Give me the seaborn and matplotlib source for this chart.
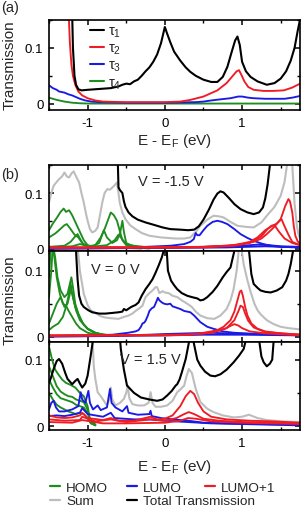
import matplotlib
matplotlib.use("Agg")
import matplotlib.pyplot as plt
from matplotlib.ticker import MultipleLocator, FuncFormatter
from matplotlib.lines import Line2D
import seaborn as sns

# ---------------- data: panel (a) ----------------
A_TAU1_E = [-1.5, -1.22, -1.2, -1.19, -1.17, -1.15, -1.12, -1.08, -1.0, -0.9, -0.8, -0.7, -0.6, -0.55, -0.5, -0.45, -0.4, -0.35, -0.3, -0.25, -0.2, -0.15, -0.1, -0.05, 0.0, 0.03, 0.07, 0.12, 0.2, 0.27, 0.33, 0.4, 0.5, 0.6, 0.68, 0.75, 0.81, 0.86, 0.91, 0.94, 0.97, 1.0, 1.05, 1.11, 1.2, 1.32, 1.42, 1.5, 1.57, 1.63, 1.68, 1.72, 1.75]
A_TAU1_T = [0.5, 0.3, 0.16, 0.1, 0.05, 0.034, 0.026, 0.024, 0.025, 0.026, 0.027, 0.028, 0.031, 0.034, 0.036, 0.035, 0.04, 0.043, 0.05, 0.058, 0.065, 0.075, 0.088, 0.108, 0.137, 0.125, 0.11, 0.093, 0.077, 0.065, 0.057, 0.05, 0.043, 0.039, 0.039, 0.048, 0.066, 0.09, 0.113, 0.12, 0.105, 0.075, 0.058, 0.048, 0.04, 0.034, 0.037, 0.045, 0.058, 0.077, 0.1, 0.13, 0.15]
A_TAU2_E = [-1.5, -1.27, -1.245, -1.23, -1.21, -1.19, -1.16, -1.12, -1.07, -1.0, -0.9, -0.8, -0.5, 0.0, 0.2, 0.33, 0.5, 0.68, 0.8, 0.88, 0.93, 0.96, 0.99, 1.03, 1.08, 1.15, 1.28, 1.4, 1.54, 1.65, 1.75]
A_TAU2_T = [0.5, 0.3, 0.16, 0.11, 0.07, 0.05, 0.034, 0.022, 0.015, 0.01, 0.006, 0.004, 0.003, 0.003, 0.004, 0.007, 0.013, 0.024, 0.037, 0.05, 0.058, 0.06, 0.052, 0.04, 0.03, 0.025, 0.023, 0.023, 0.024, 0.029, 0.036]
A_TAU3_E = [-1.5, -1.45, -1.4, -1.37, -1.3, -1.25, -1.2, -1.15, -1.1, -1.03, -0.95, -0.85, -0.5, 0.0, 0.4, 0.5, 0.6, 0.72, 0.85, 0.95, 1.0, 1.08, 1.15, 1.3, 1.45, 1.55, 1.65, 1.75]
A_TAU3_T = [0.033, 0.028, 0.025, 0.022, 0.02, 0.017, 0.015, 0.012, 0.009, 0.006, 0.004, 0.003, 0.002, 0.002, 0.003, 0.004, 0.006, 0.008, 0.01, 0.013, 0.013, 0.011, 0.01, 0.009, 0.009, 0.009, 0.011, 0.014]
A_TAU4_E = [-1.5, -1.45, -1.4, -1.3, -1.2, -1.1, -1.0, 0.0, 1.0, 1.75]
A_TAU4_T = [0.011, 0.009, 0.007, 0.004, 0.002, 0.001, 0.0005, 0.0005, 0.0005, 0.0005]
A_LABELS = ["τ$_1$", "τ$_2$", "τ$_3$", "τ$_4$"]

# ---------------- data: panel (b), V = -1.5 V ----------------
B1_TOT_E = [-1.5, -0.63, -0.61, -0.6, -0.58, -0.55, -0.53, -0.51, -0.47, -0.42, -0.35, -0.25, -0.15, -0.03, 0.07, 0.2, 0.3, 0.38, 0.44, 0.5, 0.57, 0.63, 0.68, 0.72, 0.76, 0.83, 0.9, 0.98, 1.07, 1.15, 1.22, 1.27, 1.3, 1.33, 1.36, 1.38, 1.75]
B1_TOT_T = [0.3, 0.3, 0.16, 0.11, 0.105, 0.1, 0.085, 0.075, 0.065, 0.058, 0.052, 0.047, 0.043, 0.038, 0.035, 0.034, 0.033, 0.034, 0.04, 0.052, 0.07, 0.088, 0.099, 0.103, 0.101, 0.091, 0.08, 0.071, 0.065, 0.062, 0.065, 0.074, 0.09, 0.115, 0.15, 0.3, 0.3]
B1_SUM_E = [-1.5, -1.47, -1.44, -1.4, -1.37, -1.33, -1.3, -1.27, -1.24, -1.21, -1.18, -1.15, -1.11, -1.08, -1.05, -1.02, -1.0, -0.97, -0.94, -0.9, -0.87, -0.84, -0.81, -0.78, -0.745, -0.71, -0.68, -0.65, -0.62, -0.6, -0.585, -0.55, -0.51, -0.45, -0.38, -0.3, -0.2, -0.05, 0.14, 0.25, 0.33, 0.4, 0.46, 0.55, 0.63, 0.7, 0.76, 0.85, 0.94, 1.05, 1.15, 1.25, 1.32, 1.42, 1.5, 1.55, 1.58, 1.6, 1.63, 1.65, 1.68, 1.71, 1.73, 1.75]
B1_SUM_T = [0.083, 0.1, 0.113, 0.12, 0.125, 0.13, 0.137, 0.13, 0.128, 0.135, 0.139, 0.13, 0.119, 0.1, 0.083, 0.062, 0.05, 0.035, 0.029, 0.032, 0.038, 0.06, 0.083, 0.1, 0.107, 0.106, 0.11, 0.114, 0.119, 0.1, 0.083, 0.065, 0.053, 0.042, 0.035, 0.028, 0.023, 0.02, 0.018, 0.018, 0.02, 0.03, 0.041, 0.052, 0.059, 0.058, 0.056, 0.048, 0.041, 0.039, 0.038, 0.047, 0.059, 0.075, 0.095, 0.12, 0.149, 0.3, 0.3, 0.15, 0.08, 0.04, 0.026, 0.018]
B1_H1_E = [-1.5, -1.45, -1.4, -1.35, -1.31, -1.28, -1.24, -1.2, -1.15, -1.1, -1.05, -1.0, -0.9, -0.5, -0.3]
B1_H1_T = [0.033, 0.045, 0.055, 0.066, 0.072, 0.066, 0.069, 0.06, 0.045, 0.03, 0.015, 0.006, 0.002, 0.001, 0.0]
B1_H2_E = [-1.5, -1.42, -1.37, -1.3, -1.27, -1.22, -1.17, -1.12, -1.07, -1.0, -0.9, -0.83, -0.78, -0.74, -0.7, -0.66, -0.62, -0.58, -0.55, -0.5, -0.4, -0.2]
B1_H2_T = [0.02, 0.027, 0.033, 0.042, 0.044, 0.035, 0.025, 0.02, 0.01, 0.004, 0.006, 0.02, 0.035, 0.05, 0.065, 0.06, 0.05, 0.03, 0.015, 0.006, 0.002, 0.0]
B1_H3_E = [-1.5, -1.3, -1.22, -1.16, -1.13, -1.1, -1.05, -0.95, -0.85, -0.79, -0.75, -0.68, -0.62, -0.58, -0.55, -0.53, -0.5, -0.4, -0.2]
B1_H3_T = [0.003, 0.005, 0.012, 0.022, 0.026, 0.018, 0.006, 0.003, 0.01, 0.033, 0.02, 0.01, 0.015, 0.027, 0.05, 0.03, 0.01, 0.003, 0.001]
B1_H4_E = [-1.5, -1.2, -1.1, -1.0, -0.9, -0.75, -0.65, -0.6, -0.57, -0.5, -0.4, -0.2, 0.0]
B1_H4_T = [0.002, 0.004, 0.008, 0.005, 0.004, 0.006, 0.015, 0.025, 0.02, 0.008, 0.005, 0.002, 0.001]
B1_L1_E = [-1.5, -0.5, -0.25, 0.075, 0.25, 0.33, 0.375, 0.4, 0.42, 0.45, 0.5, 0.55, 0.62, 0.68, 0.74, 0.81, 0.9, 0.98, 1.07, 1.15, 1.25, 1.37, 1.5, 1.75]
B1_L1_T = [0.0, 0.001, 0.003, 0.005, 0.008, 0.012, 0.017, 0.028, 0.024, 0.024, 0.033, 0.041, 0.048, 0.05, 0.048, 0.044, 0.035, 0.026, 0.019, 0.014, 0.009, 0.005, 0.003, 0.002]
B1_L2_E = [-1.5, -0.5, 0.0, 0.5, 1.0, 1.2, 1.35, 1.5, 1.75]
B1_L2_T = [0.0, 0.001, 0.002, 0.003, 0.005, 0.007, 0.006, 0.004, 0.003]
B1_L3_E = [-1.5, 0.0, 0.8, 1.3, 1.75]
B1_L3_T = [0.0, 0.001, 0.002, 0.004, 0.002]
B1_P1_E = [-1.5, 0.0, 0.5, 0.8, 1.0, 1.15, 1.25, 1.32, 1.41, 1.47, 1.5, 1.53, 1.56, 1.6, 1.62, 1.65, 1.67, 1.69, 1.72, 1.75]
B1_P1_T = [0.002, 0.002, 0.003, 0.005, 0.008, 0.012, 0.018, 0.026, 0.038, 0.048, 0.053, 0.065, 0.077, 0.089, 0.085, 0.065, 0.04, 0.023, 0.013, 0.008]
B1_P2_E = [-1.5, 0.5, 0.9, 1.1, 1.2, 1.3, 1.38, 1.45, 1.51, 1.55, 1.6, 1.65, 1.75]
B1_P2_T = [0.002, 0.003, 0.006, 0.012, 0.02, 0.033, 0.04, 0.045, 0.053, 0.04, 0.025, 0.012, 0.006]
B1_P3_E = [-1.5, 0.5, 0.9, 1.1, 1.25, 1.33, 1.38, 1.42, 1.48, 1.55, 1.65, 1.75]
B1_P3_T = [0.001, 0.002, 0.005, 0.01, 0.022, 0.035, 0.041, 0.042, 0.03, 0.018, 0.01, 0.006]

# ---------------- data: panel (b), V = 0 V ----------------
B2_TOT_E = [-1.5, -1.16, -1.15, -1.13, -1.11, -1.08, -1.05, -0.99, -0.94, -0.85, -0.77, -0.68, -0.6, -0.55, -0.53, -0.5, -0.45, -0.42, -0.38, -0.34, -0.3, -0.25, -0.2, -0.16, -0.12, -0.08, -0.04, -0.02, 0.0, 0.02, 0.04, 0.08, 0.12, 0.16, 0.22, 0.29, 0.35, 0.42, 0.46, 0.5, 0.55, 0.62, 0.68, 0.75, 0.8, 0.85, 0.9, 0.93, 1.06, 1.09, 1.12, 1.15, 1.2, 1.24, 1.3, 1.37, 1.45, 1.52, 1.57, 1.6, 1.63, 1.66, 1.68, 1.75]
B2_TOT_T = [0.3, 0.3, 0.13, 0.087, 0.062, 0.05, 0.045, 0.04, 0.037, 0.035, 0.035, 0.036, 0.037, 0.038, 0.042, 0.04, 0.044, 0.046, 0.048, 0.052, 0.062, 0.072, 0.08, 0.087, 0.097, 0.108, 0.12, 0.128, 0.14, 0.14, 0.1, 0.085, 0.078, 0.072, 0.066, 0.062, 0.06, 0.058, 0.055, 0.056, 0.06, 0.068, 0.077, 0.09, 0.098, 0.105, 0.13, 0.3, 0.3, 0.13, 0.095, 0.08, 0.074, 0.07, 0.068, 0.067, 0.07, 0.075, 0.085, 0.095, 0.11, 0.13, 0.3, 0.3]
B2_SUM_E = [-1.5, -1.2, -1.15, -1.1, -1.05, -1.0, -0.96, -0.9, -0.83, -0.77, -0.7, -0.6, -0.53, -0.47, -0.42, -0.38, -0.33, -0.29, -0.25, -0.2, -0.16, -0.12, -0.1, -0.07, -0.03, 0.0, 0.05, 0.1, 0.16, 0.22, 0.29, 0.35, 0.4, 0.46, 0.55, 0.64, 0.72, 0.8, 0.85, 0.89, 0.93, 0.96, 0.99, 1.02, 1.07, 1.11, 1.16, 1.2, 1.24, 1.32, 1.41, 1.5, 1.6, 1.75]
B2_SUM_T = [0.3, 0.3, 0.16, 0.1, 0.065, 0.048, 0.04, 0.036, 0.031, 0.029, 0.028, 0.027, 0.03, 0.032, 0.035, 0.039, 0.043, 0.047, 0.06, 0.066, 0.07, 0.075, 0.075, 0.066, 0.069, 0.067, 0.066, 0.062, 0.06, 0.055, 0.05, 0.045, 0.038, 0.032, 0.028, 0.027, 0.032, 0.042, 0.055, 0.072, 0.1, 0.135, 0.135, 0.11, 0.085, 0.068, 0.05, 0.04, 0.034, 0.025, 0.019, 0.015, 0.013, 0.011]
B2_H1_E = [-1.5, -1.48, -1.46, -1.43, -1.4, -1.36, -1.32, -1.28, -1.25, -1.2, -1.15, -1.1, -1.0, -0.85, -0.6]
B2_H1_T = [0.09, 0.13, 0.14, 0.12, 0.09, 0.065, 0.05, 0.047, 0.04, 0.03, 0.02, 0.013, 0.006, 0.002, 0.001]
B2_H2_E = [-1.5, -1.47, -1.45, -1.42, -1.39, -1.35, -1.3, -1.26, -1.23, -1.21, -1.19, -1.16, -1.12, -1.06, -1.0, -0.9, -0.7]
B2_H2_T = [0.06, 0.1, 0.14, 0.12, 0.09, 0.07, 0.06, 0.065, 0.08, 0.09, 0.075, 0.05, 0.035, 0.02, 0.012, 0.005, 0.002]
B2_H3_E = [-1.5, -1.45, -1.4, -1.35, -1.3, -1.26, -1.22, -1.2, -1.16, -1.1, -1.05, -1.0, -0.9, -0.8, -0.6]
B2_H3_T = [0.02, 0.035, 0.05, 0.06, 0.045, 0.05, 0.07, 0.065, 0.045, 0.028, 0.018, 0.012, 0.006, 0.003, 0.001]
B2_H4_E = [-1.5, -1.45, -1.38, -1.32, -1.28, -1.25, -1.22, -1.19, -1.15, -1.1, -1.0, -0.9, -0.8, -0.6]
B2_H4_T = [0.01, 0.015, 0.02, 0.03, 0.045, 0.06, 0.08, 0.06, 0.04, 0.025, 0.012, 0.006, 0.003, 0.001]
B2_L1_E = [-1.5, -1.0, -0.68, -0.47, -0.38, -0.34, -0.31, -0.29, -0.27, -0.25, -0.22, -0.2, -0.17, -0.14, -0.11, -0.09, -0.07, -0.04, -0.01, 0.03, 0.07, 0.1, 0.15, 0.2, 0.25, 0.33, 0.38, 0.42, 0.46, 0.55, 0.63, 0.75, 0.89, 1.2, 1.5, 1.75]
B2_L1_T = [0.001, 0.002, 0.003, 0.006, 0.008, 0.01, 0.015, 0.02, 0.021, 0.024, 0.032, 0.039, 0.043, 0.045, 0.053, 0.059, 0.055, 0.052, 0.05, 0.049, 0.05, 0.046, 0.044, 0.042, 0.039, 0.037, 0.032, 0.027, 0.022, 0.015, 0.012, 0.008, 0.006, 0.004, 0.003, 0.002]
B2_L2_E = [-1.5, -0.5, -0.2, 0.0, 0.3, 0.6, 0.8, 1.2, 1.75]
B2_L2_T = [0.001, 0.002, 0.003, 0.004, 0.005, 0.006, 0.005, 0.004, 0.003]
B2_L3_E = [-1.5, 0.0, 0.5, 1.0, 1.75]
B2_L3_T = [0.0, 0.002, 0.003, 0.003, 0.002]
B2_P1_E = [-1.5, 0.0, 0.3, 0.46, 0.6, 0.68, 0.76, 0.85, 0.9, 0.94, 0.97, 0.99, 1.01, 1.04, 1.07, 1.12, 1.2, 1.3, 1.5, 1.75]
B2_P1_T = [0.002, 0.002, 0.003, 0.005, 0.008, 0.01, 0.015, 0.025, 0.038, 0.055, 0.068, 0.07, 0.062, 0.045, 0.032, 0.02, 0.012, 0.008, 0.005, 0.003]
B2_P2_E = [-1.5, 0.3, 0.6, 0.8, 0.9, 0.95, 0.98, 1.01, 1.04, 1.08, 1.15, 1.3, 1.75]
B2_P2_T = [0.002, 0.003, 0.006, 0.013, 0.025, 0.038, 0.047, 0.045, 0.035, 0.024, 0.014, 0.007, 0.003]
B2_P3_E = [-1.5, 0.3, 0.6, 0.78, 0.86, 0.9, 0.95, 1.0, 1.1, 1.3, 1.75]
B2_P3_T = [0.001, 0.003, 0.006, 0.012, 0.017, 0.019, 0.017, 0.013, 0.008, 0.005, 0.002]

# ---------------- data: panel (b), V = 1.5 V ----------------
B3_TOT_E = [-1.5, -1.48, -1.44, -1.4, -1.37, -1.33, -1.29, -1.26, -1.2, -1.16, -1.13, -1.1, -1.07, -1.03, -1.0, -0.96, -0.93, -0.91, -0.6, -0.58, -0.57, -0.53, -0.49, -0.4, -0.31, -0.2, -0.1, -0.03, 0.03, 0.09, 0.14, 0.16, 0.19, 0.22, 0.27, 0.31, 0.33, 0.36, 0.375, 0.42, 0.46, 0.52, 0.59, 0.65, 0.72, 0.8, 0.89, 0.96, 1.02, 1.05, 1.07, 1.2, 1.22, 1.25, 1.28, 1.32, 1.36, 1.39, 1.41, 1.43, 1.75]
B3_TOT_T = [0.065, 0.071, 0.086, 0.098, 0.101, 0.094, 0.08, 0.071, 0.063, 0.068, 0.071, 0.064, 0.058, 0.064, 0.076, 0.106, 0.13, 0.3, 0.3, 0.13, 0.116, 0.085, 0.061, 0.05, 0.043, 0.04, 0.038, 0.04, 0.046, 0.053, 0.061, 0.063, 0.07, 0.081, 0.101, 0.125, 0.3, 0.3, 0.125, 0.1, 0.091, 0.082, 0.076, 0.075, 0.078, 0.085, 0.096, 0.106, 0.116, 0.13, 0.3, 0.3, 0.13, 0.105, 0.096, 0.09, 0.094, 0.1, 0.13, 0.3, 0.3]
B3_SUM_E = [-1.5, -0.97, -0.94, -0.92, -0.9, -0.87, -0.83, -0.79, -0.75, -0.72, -0.7, -0.68, -0.64, -0.58, -0.53, -0.5, -0.48, -0.46, -0.42, -0.35, -0.27, -0.21, -0.185, -0.16, -0.12, -0.05, 0.03, 0.1, 0.16, 0.2, 0.25, 0.28, 0.31, 0.35, 0.4, 0.46, 0.55, 0.63, 0.75, 0.89, 1.0, 1.09, 1.2, 1.32, 1.5, 1.75]
B3_SUM_T = [0.3, 0.3, 0.14, 0.09, 0.071, 0.051, 0.045, 0.038, 0.031, 0.04, 0.058, 0.04, 0.031, 0.035, 0.041, 0.05, 0.061, 0.042, 0.033, 0.031, 0.031, 0.035, 0.051, 0.035, 0.029, 0.029, 0.031, 0.038, 0.051, 0.055, 0.061, 0.075, 0.086, 0.08, 0.056, 0.036, 0.026, 0.021, 0.016, 0.013, 0.014, 0.017, 0.012, 0.009, 0.007, 0.006]
B3_H1_E = [-1.5, -1.46, -1.42, -1.38, -1.33, -1.28, -1.22, -1.16, -1.1, -1.05, -1.0, -0.97, -0.9]
B3_H1_T = [0.12, 0.1, 0.085, 0.078, 0.07, 0.065, 0.062, 0.058, 0.05, 0.045, 0.03, 0.01, 0.002]
B3_H2_E = [-1.5, -1.45, -1.4, -1.35, -1.3, -1.25, -1.2, -1.15, -1.1, -1.05, -1.0, -0.97, -0.9]
B3_H2_T = [0.09, 0.075, 0.06, 0.052, 0.048, 0.045, 0.044, 0.04, 0.038, 0.036, 0.025, 0.008, 0.002]
B3_H3_E = [-1.5, -1.45, -1.4, -1.35, -1.3, -1.25, -1.2, -1.15, -1.1, -1.05, -1.0, -0.96, -0.9]
B3_H3_T = [0.07, 0.058, 0.048, 0.042, 0.04, 0.038, 0.036, 0.032, 0.03, 0.028, 0.02, 0.005, 0.001]
B3_H4_E = [-1.5, -1.45, -1.4, -1.35, -1.3, -1.25, -1.2, -1.15, -1.1, -1.05, -1.0, -0.96, -0.9]
B3_H4_T = [0.05, 0.04, 0.032, 0.028, 0.025, 0.022, 0.02, 0.018, 0.02, 0.018, 0.012, 0.004, 0.001]
B3_L1_E = [-1.5, -1.47, -1.44, -1.41, -1.37, -1.3, -1.2, -1.12, -1.09, -1.07, -1.03, -0.99, -0.97, -0.93, -0.87, -0.83, -0.75, -0.71, -0.69, -0.64, -0.55, -0.49, -0.47, -0.35, -0.2, -0.185, -0.17, -0.05, 0.1, 0.3, 0.5, 0.8, 1.2, 1.75]
B3_L1_T = [0.025, 0.035, 0.038, 0.028, 0.022, 0.022, 0.025, 0.03, 0.051, 0.04, 0.035, 0.053, 0.035, 0.025, 0.031, 0.024, 0.028, 0.056, 0.035, 0.028, 0.022, 0.03, 0.02, 0.017, 0.018, 0.023, 0.015, 0.012, 0.01, 0.008, 0.005, 0.004, 0.003, 0.002]
B3_L2_E = [-1.5, -1.4, -1.3, -1.2, -1.1, -1.07, -1.0, -0.8, -0.7, -0.65, -0.4, -0.2, 0.0, 0.3, 0.6, 1.0, 1.75]
B3_L2_T = [0.015, 0.016, 0.015, 0.017, 0.02, 0.027, 0.018, 0.014, 0.02, 0.012, 0.01, 0.01, 0.008, 0.006, 0.004, 0.003, 0.001]
B3_P1_E = [-1.5, -1.4, -1.3, -1.2, -1.1, -1.07, -1.0, -0.8, -0.7, -0.6, -0.4, -0.185, -0.1, 0.0, 0.1, 0.2, 0.27, 0.33, 0.38, 0.43, 0.5, 0.6, 0.8, 1.1, 1.4, 1.75]
B3_P1_T = [0.016, 0.013, 0.012, 0.013, 0.016, 0.02, 0.012, 0.009, 0.012, 0.008, 0.008, 0.014, 0.01, 0.011, 0.016, 0.03, 0.045, 0.053, 0.048, 0.035, 0.022, 0.014, 0.01, 0.008, 0.007, 0.005]
B3_P2_E = [-1.5, -1.3, -1.1, -1.07, -0.9, -0.7, -0.5, -0.185, 0.0, 0.15, 0.25, 0.31, 0.38, 0.5, 0.7, 1.0, 1.75]
B3_P2_T = [0.01, 0.008, 0.009, 0.014, 0.007, 0.01, 0.006, 0.01, 0.008, 0.012, 0.018, 0.021, 0.018, 0.011, 0.008, 0.006, 0.004]
B3_P3_E = [-1.5, -1.2, -1.07, -0.8, -0.5, 0.0, 0.2, 0.3, 0.4, 0.6, 1.0, 1.75]
B3_P3_T = [0.006, 0.005, 0.009, 0.004, 0.004, 0.005, 0.008, 0.012, 0.011, 0.007, 0.005, 0.003]

V_LABELS = ["V = -1.5 V", "V = 0 V", "V = 1.5 V"]
LEGEND_LABELS = ["HOMO", "LUMO", "LUMO+1", "Sum", "Total Transmission"]

# ---------------- style ----------------
sns.set_style("ticks")
plt.rcParams.update({
    "font.family": ["Liberation Sans", "DejaVu Sans"],
    "mathtext.fontset": "custom",
    "mathtext.rm": "Liberation Sans",
    "mathtext.it": "Liberation Sans:italic",
    "mathtext.bf": "Liberation Sans:bold",
    "axes.unicode_minus": False,
    "axes.linewidth": 1.2,
    "axes.edgecolor": "black",
    "xtick.direction": "in", "ytick.direction": "in",
    "xtick.top": True, "ytick.right": True,
    "xtick.major.size": 3.5, "ytick.major.size": 3.5,
    "xtick.minor.size": 2.0, "ytick.minor.size": 2.0,
    "xtick.major.width": 1.1, "ytick.major.width": 1.1,
    "xtick.minor.width": 1.0, "ytick.minor.width": 1.0,
    "xtick.labelsize": 9.5, "ytick.labelsize": 9.5,
    "xtick.color": "black", "ytick.color": "black",
})

BLACK = "#000000"
RED = "#ee1c24"
BLUE = "#1a1ae6"
GREEN = "#1e8c1e"
GRAY = "#bdbdbd"
LW = 1.35
LW_BOLD = 1.5

W, H = 301, 510
fig = plt.figure(figsize=(W / 100, H / 100), dpi=100)


def rect(l, t, r, b):
    return [l / W, 1 - b / H, (r - l) / W, (b - t) / H]


def line(ax, e, t, color, lw=LW):
    sns.lineplot(x=e, y=t, ax=ax, color=color, lw=lw, sort=False,
                 estimator=None, legend=False)


def style_axis(ax, ylim, show_x):
    ax.set_xlim(-1.5, 1.75)
    ax.set_ylim(*ylim)
    ax.xaxis.set_major_locator(MultipleLocator(1))
    ax.xaxis.set_minor_locator(MultipleLocator(0.5))
    ax.yaxis.set_major_locator(MultipleLocator(0.1))
    ax.yaxis.set_minor_locator(MultipleLocator(0.05))
    ax.yaxis.set_major_formatter(FuncFormatter(lambda v, p: f"{v:g}"))
    ax.xaxis.set_major_formatter(FuncFormatter(lambda v, p: f"{v:g}"))
    ax.tick_params(which="both", direction="in", top=True, right=True)
    ax.tick_params(axis="x", pad=5)
    ax.tick_params(axis="y", pad=4)
    ax.set_xlabel("")
    ax.set_ylabel("")
    if not show_x:
        ax.tick_params(axis="x", labelbottom=False)
    for s in ax.spines.values():
        s.set_visible(True)
        s.set_linewidth(1.2)


# ---------------- panel (a) ----------------
ax_a = fig.add_axes(rect(49, 20.7, 300, 111))
line(ax_a, A_TAU4_E, A_TAU4_T, GREEN)
line(ax_a, A_TAU3_E, A_TAU3_T, BLUE)
line(ax_a, A_TAU2_E, A_TAU2_T, RED)
line(ax_a, A_TAU1_E, A_TAU1_T, BLACK, LW_BOLD)
style_axis(ax_a, (-0.011, 0.150), True)
handles_a = [Line2D([], [], color=c, lw=1.5) for c in (BLACK, RED, BLUE, GREEN)]
ax_a.legend(handles_a, A_LABELS, loc="upper left", bbox_to_anchor=(0.165, 0.955),
            frameon=False, fontsize=10.5, handlelength=0.9, handletextpad=0.3,
            labelspacing=0.12, borderpad=0.0, borderaxespad=0)

# ---------------- panel (b) ----------------
b_rects = [rect(49, 165.7, 300, 252.3), rect(49, 252.3, 300, 343.3), rect(49, 343.3, 300, 431)]
b_ylims = [(-0.005, 0.151), (-0.0085, 0.1294), (-0.006, 0.1262)]
b_data = [
    (B1_SUM_E, B1_SUM_T, B1_TOT_E, B1_TOT_T,
     [(B1_H1_E, B1_H1_T), (B1_H2_E, B1_H2_T), (B1_H3_E, B1_H3_T), (B1_H4_E, B1_H4_T)],
     [(B1_L1_E, B1_L1_T), (B1_L2_E, B1_L2_T), (B1_L3_E, B1_L3_T)],
     [(B1_P1_E, B1_P1_T), (B1_P2_E, B1_P2_T), (B1_P3_E, B1_P3_T)]),
    (B2_SUM_E, B2_SUM_T, B2_TOT_E, B2_TOT_T,
     [(B2_H1_E, B2_H1_T), (B2_H2_E, B2_H2_T), (B2_H3_E, B2_H3_T), (B2_H4_E, B2_H4_T)],
     [(B2_L1_E, B2_L1_T), (B2_L2_E, B2_L2_T), (B2_L3_E, B2_L3_T)],
     [(B2_P1_E, B2_P1_T), (B2_P2_E, B2_P2_T), (B2_P3_E, B2_P3_T)]),
    (B3_SUM_E, B3_SUM_T, B3_TOT_E, B3_TOT_T,
     [(B3_H1_E, B3_H1_T), (B3_H2_E, B3_H2_T), (B3_H3_E, B3_H3_T), (B3_H4_E, B3_H4_T)],
     [(B3_L1_E, B3_L1_T), (B3_L2_E, B3_L2_T)],
     [(B3_P1_E, B3_P1_T), (B3_P2_E, B3_P2_T), (B3_P3_E, B3_P3_T)]),
]
v_pos = [(138, 182), (91, 270), (120, 360)]

for i, (r, yl, d) in enumerate(zip(b_rects, b_ylims, b_data)):
    ax = fig.add_axes(r)
    se, st, te, tt, homo, lumo, lumo1 = d
    line(ax, se, st, GRAY, LW_BOLD)
    for e, t in homo:
        line(ax, e, t, GREEN)
    for e, t in lumo:
        line(ax, e, t, BLUE)
    for e, t in lumo1:
        line(ax, e, t, RED)
    line(ax, te, tt, BLACK, LW_BOLD)
    style_axis(ax, yl, i == 2)
    fig.text(v_pos[i][0] / W, 1 - v_pos[i][1] / H, V_LABELS[i], fontsize=10.5,
             ha="left", va="center")

# ---------------- labels ----------------
fig.text(1 / W, 1 - 8 / H, "(a)", fontsize=10.5, ha="left", va="center")
fig.text(1 / W, 1 - 175 / H, "(b)", fontsize=10.5, ha="left", va="center")
fig.text(10 / W, 1 - 65 / H, "Transmission", fontsize=11, rotation=90, ha="center", va="center")
fig.text(10 / W, 1 - 300 / H, "Transmission", fontsize=11, rotation=90, ha="center", va="center")
XLAB = r"E - E$_\mathrm{F}$ (eV)"
fig.text(175 / W, 1 - 145.5 / H, XLAB, fontsize=11, ha="center", va="baseline")
fig.text(175 / W, 1 - 470.5 / H, XLAB, fontsize=11, ha="center", va="baseline")

# ---------------- bottom legend (one entry each, placed like the reference) ----------------
LEG_COLORS = [GREEN, BLUE, RED, GRAY, BLACK]
LEG_POS = [(50, 488.5), (127, 488.5), (205, 488.5), (50, 502), (127, 502)]
for lab, c, (px, py) in zip(LEGEND_LABELS, LEG_COLORS, LEG_POS):
    fig.legend([Line2D([], [], color=c, lw=1.6)], [lab], loc="center left",
               bbox_to_anchor=(px / W, 1 - py / H), frameon=False, fontsize=9.7,
               handlelength=0.74, handletextpad=0.45, borderpad=0, borderaxespad=0)

fig.savefig("out.png", dpi=100)
